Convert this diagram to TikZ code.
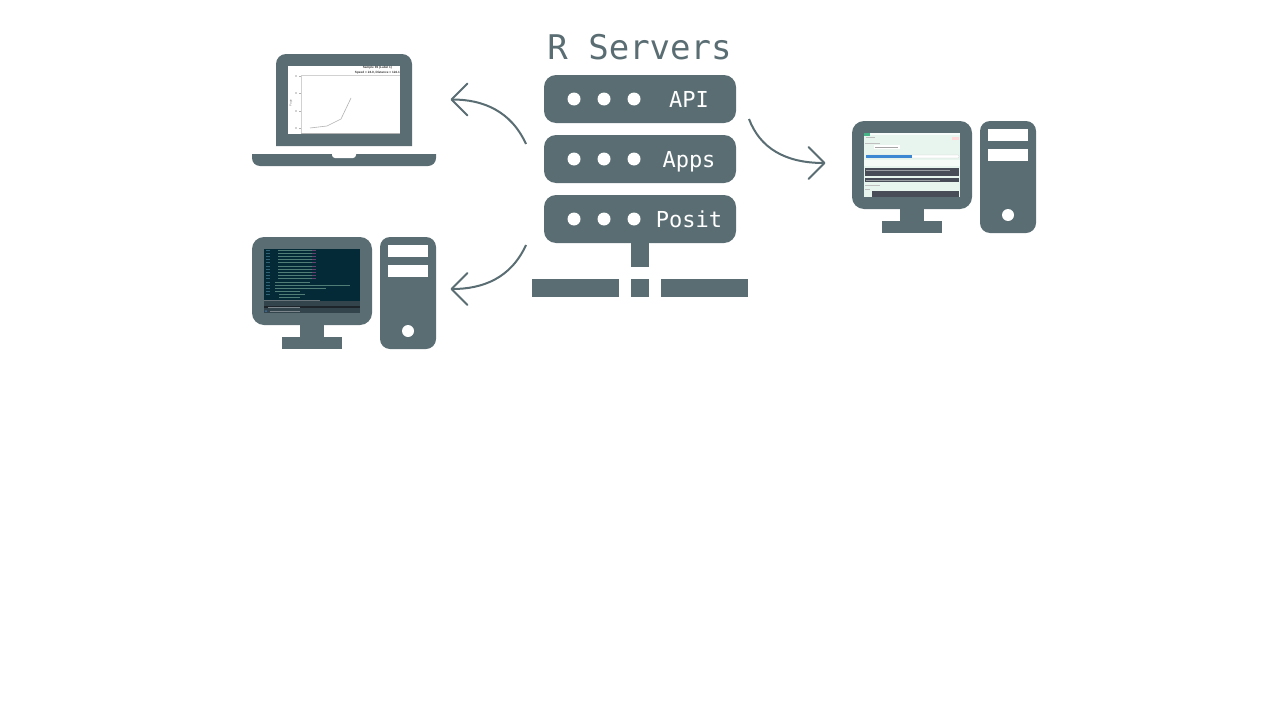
\documentclass[tikz,border=0pt]{standalone}
\usepackage{fontspec}
\setmonofont{DejaVu Sans Mono}
\setsansfont{Liberation Sans}
\usetikzlibrary{arrows.meta}
\definecolor{slate}{RGB}{89,109,115}
\definecolor{termbg}{RGB}{3,42,54}
\definecolor{termbar}{RGB}{52,68,76}
\definecolor{termline}{RGB}{80,125,118}
\definecolor{termnum}{RGB}{50,100,120}
\definecolor{termpink}{RGB}{100,65,110}
\definecolor{appbg}{RGB}{232,245,238}
\definecolor{appbar}{RGB}{72,76,86}
\definecolor{appblue}{RGB}{60,135,210}
\definecolor{appgreen}{RGB}{70,180,135}
\tikzset{
    panel/.style 2 args={
        rectangle,
        fill=slate,
        rounded corners=#2,
        minimum width=#1,
        inner sep=0pt,
        outer sep=0pt
    },
    hole/.style={
        circle,
        fill=white,
        minimum size=13pt,
        inner sep=0pt,
        outer sep=0pt
    },
    flow/.style={
        draw=slate,
        line width=2pt,
        -{Straight Barb[length=16pt,width=32pt,round]}
    },
    rowlabel/.style={
        text=white,
        anchor=base,
        font=\ttfamily\fontsize{22}{22}\selectfont
    },
    % one monitor and tower, 0,0 is the top left corner of the monitor
    desktop/.pic={
        \fill[slate, rounded corners=12pt] (0,0) rectangle (120,88);
        \fill[slate] (48,88) rectangle (72,100);
        \fill[slate] (30,100) rectangle (90,112);
        \fill[slate, rounded corners=10pt] (128,0) rectangle (184,112);
        \fill[white] (136,8) rectangle (176,20);
        \fill[white] (136,28) rectangle (176,40);
        \fill[white] (156,94) circle [radius=6];
    }
}

\begin{document}
\begin{tikzpicture}[x=1pt,y=-1pt]
    \useasboundingbox (0,0) rectangle (1280,720);
    \fill[white] (0,0) rectangle (1280,720);

    % title
    \node[text=slate, font=\ttfamily\fontsize{34}{34}\selectfont] (title) at (639.5,47) {R Servers};

    % server rows
    \foreach \name/\y/\l in {api/99/API, apps/159/Apps, posit/219/Posit} {
        \node[panel={192pt}{12pt}, minimum height=48pt] (\name) at (640,\y) {};
        \foreach \x in {574,604,634} {
            \node[hole] at (\x,\y) {};
        }
        \node[rowlabel] (\name label) at (689,\y+8) {\l};
    }

    % stem and floor
    \fill[slate] (631,243) rectangle (649,267);
    \fill[slate] (532,279) rectangle (619,297);
    \fill[slate] (631,279) rectangle (649,297);
    \fill[slate] (661,279) rectangle (748,297);

    % laptop
    \fill[slate, rounded corners=10pt] (276,146) -- (276,54) -- (412,54) -- (412,146);
    \fill[slate, rounded corners=8pt] (252,154) -- (252,166) -- (436,166) -- (436,154);
    \fill[white, rounded corners=3pt] (332,154) -- (332,158) -- (356,158) -- (356,154);
    \fill[white] (288,66) rectangle (400,134);

    % plot on the laptop
    \draw[black!18, line width=0.6pt] (301,133) -- (301,75) -- (400,75);
    \draw[black!30, line width=0.5pt] (301,133) -- (400,133);
    \foreach \y in {76,93,111,128} {
        \draw[black!30, line width=0.4pt] (299,\y) -- (301,\y);
        \fill[black!35] (296,\y) circle [radius=0.8];
    }
    \draw[black!30, line width=0.6pt] (310,128) -- (327,126) -- (341,119) -- (351,98);
    \node[font=\sffamily\bfseries\fontsize{3.1}{4.6}\selectfont, anchor=north east, align=center, inner sep=0pt, text=black!80]
        (plottitle) at (400,66.3) {Sample 96 (Label 1)\\Speed = 24.0, Distance = 124.1};
    \node[font=\sffamily\fontsize{3}{3}\selectfont, rotate=90, text=black!50, inner sep=0pt] (plotaxis) at (291,103) {Page};

    % desktop with the console
    \pic at (252,237) {desktop};
    \fill[termbg] (264,249) rectangle (360,301);
    \fill[termbar] (264,301) rectangle (360,306);
    \fill[black!45!termbar] (264,306) rectangle (360,308);
    \fill[termbar] (264,308) rectangle (360,313);
    \draw[termbar!75!white, line width=0.5pt] (264,300.5) -- (320,300.5);
    \foreach \y in {250,253.2,...,296} {
        \draw[termnum, line width=0.9pt] (266,\y) -- (270,\y);
    }
    \foreach \y in {250,253.2,...,279} {
        \draw[termline, line width=0.9pt] (278,\y) -- (312,\y);
        \draw[termpink, line width=0.9pt] (312,\y) -- (316,\y);
    }
    \draw[termline, line width=0.9pt] (275,282) -- (310,282);
    \draw[termline, line width=0.9pt] (275,285) -- (350,285);
    \draw[termline, line width=0.9pt] (275,288) -- (326,288);
    \draw[termline, line width=0.9pt] (275,291) -- (300,291);
    \draw[termline, line width=0.9pt] (279,294) -- (305,294);
    \draw[termline, line width=0.9pt] (279,297) -- (300,297);
    \draw[white!35!termbar, line width=0.8pt] (268,307) -- (300,307);
    \draw[white!35!termbar, line width=0.8pt] (270,311) -- (300,311);
    \fill[appblue!70!termbar] (266,311) circle [radius=1];

    % desktop with the app
    \pic at (852,121) {desktop};
    \fill[appbg] (864,133) rectangle (960,197);
    \fill[white!70!appbg] (864,133) rectangle (960,134.5);
    \fill[appgreen] (864,133) rectangle (870,136);
    \fill[white!60!appbg] (864,160) rectangle (960,166);
    \fill[red!15!white] (952,137) rectangle (959,139.5);
    \fill[white] (874,145) rectangle (900,149);
    \draw[black!35, line width=0.5pt] (875,147) -- (898,147);
    \draw[black!25, line width=0.6pt] (865,143) -- (880,143);
    \draw[black!25, line width=0.6pt] (866,137.5) -- (875,137.5);
    \fill[white, draw=black!20, line width=0.3pt, rounded corners=1pt] (866,155) rectangle (959,158);
    \fill[appblue] (866,155) rectangle (912,158);
    \fill[appbar] (865,167.5) rectangle (959,175.5);
    \draw[white!45!appbar, line width=0.5pt] (866,170) -- (950,170);
    \fill[appbar] (865,178) rectangle (959,182);
    \draw[white!45!appbar, line width=0.5pt] (866,180) -- (940,180);
    \fill[appbar] (872,190.5) rectangle (959,197);
    \draw[black!25, line width=0.5pt] (865,185) -- (880,185);
    \draw[black!25, line width=0.5pt] (865,189) -- (870,189);

    % arrows
    \coordinate (plotfrom) at (526,144);
    \coordinate (plotto) at (450.5,99.5);
    \coordinate (consolefrom) at (526,245);
    \coordinate (consoleto) at (450.5,289);
    \coordinate (appfrom) at (749,119);
    \coordinate (appto) at (825.5,163);
    \draw[flow] (plotfrom) .. controls (511,111) and (483,99.5) .. (plotto);
    \draw[flow] (consolefrom) .. controls (511,278) and (483,289) .. (consoleto);
    \draw[flow] (appfrom) .. controls (760,148) and (785,163) .. (appto);
\end{tikzpicture}
\end{document}
